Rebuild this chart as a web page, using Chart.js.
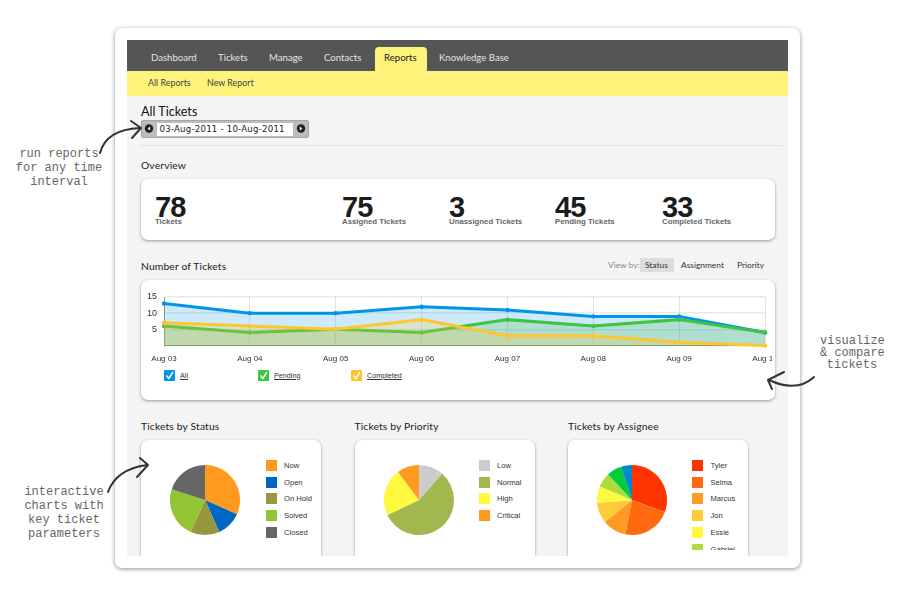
<!DOCTYPE html>
<html>
<head>
<meta charset="utf-8">
<script src="https://cdn.jsdelivr.net/npm/chart.js@4"></script>
<style>
html, body { margin: 0; padding: 0; background: #fff; width: 910px; height: 605px; overflow: hidden; }
body { position: relative; font-family: Lato, sans-serif; color: #222; }
.abs, .t { position: absolute; }
.t { white-space: nowrap; line-height: 14px; }
.panel { position: absolute; background: #fff; border-radius: 7px; box-shadow: 0 1px 3px rgba(0,0,0,.38); }
.note { position: absolute; font: 12px/14px "Liberation Mono", monospace; color: #666; text-align: center; white-space: pre; }
.h { font-size: 10.3px; color: #222; letter-spacing: .15px; }
.num { font: bold 29px/21px "Liberation Sans", sans-serif; letter-spacing: -1px; color: #1c1c1c; }
.lab { font: bold 7.8px/8px "Liberation Sans", sans-serif; color: #666; }
.nav { font-size: 9.6px; color: #e4e4e4; }
.sub { font-size: 8.9px; color: #444; }
.view { font-size: 8.4px; color: #333; }
.key { font: 7.2px/12px "Liberation Sans", sans-serif; color: #333; text-decoration: underline; }
.leg { font: 7.6px/12px "Liberation Sans", sans-serif; color: #333; }
canvas { position: absolute; }
</style>
</head>
<body>
<div class="abs" style="left:115px;top:28px;width:685px;height:540px;background:#fff;border-radius:7px;box-shadow:0 1px 4px rgba(0,0,0,.45)"></div>
<div class="abs" style="left:127px;top:40px;width:661px;height:516px;background:#f4f4f4;overflow:hidden" id="page"></div>
<div class="abs" style="left:127px;top:40px;width:661px;height:31px;background:#555"></div>
<div class="abs" style="left:127px;top:71px;width:661px;height:25px;background:#fff27a"></div>
<div class="abs" style="left:374.5px;top:47px;width:52px;height:24px;background:#fff27a;border-radius:4px 4px 0 0"></div>

<div class="t nav" style="left:151px;top:51px">Dashboard</div>
<div class="t nav" style="left:218px;top:51px">Tickets</div>
<div class="t nav" style="left:269px;top:51px">Manage</div>
<div class="t nav" style="left:324px;top:51px">Contacts</div>
<div class="t nav" style="left:384px;top:51px;color:#222">Reports</div>
<div class="t nav" style="left:439px;top:51px">Knowledge Base</div>
<div class="t sub" style="left:148px;top:76px">All Reports</div>
<div class="t sub" style="left:207px;top:76px">New Report</div>

<div class="t" style="left:141px;top:105px;font-size:12.6px;color:#111">All Tickets</div>
<div class="abs" style="left:141px;top:120px;width:168px;height:18px;background:#bcbcbc;border-radius:3px;box-shadow:inset 0 0 0 1px #a5a5a5"></div>
<div class="abs" style="left:156.5px;top:123px;width:136.5px;height:12.5px;background:#fff"></div>
<div class="t" style="left:159.5px;top:122px;font:8.6px/14px 'DejaVu Sans',sans-serif;letter-spacing:.22px;color:#222">03-Aug-2011 - 10-Aug-2011</div>
<svg class="abs" style="left:141px;top:120px" width="168" height="18">
  <circle cx="8" cy="8.5" r="4.2" fill="#222"/><path d="M9.2 6.5 L6.6 8.5 L9.2 10.5Z" fill="#fff"/>
  <circle cx="160" cy="8.5" r="4.2" fill="#222"/><path d="M158.8 6.5 L161.4 8.5 L158.8 10.5Z" fill="#fff"/>
</svg>
<div class="abs" style="left:141px;top:145px;width:641px;height:1px;background:#e2e2e2"></div>

<div class="t h" style="left:141px;top:158px">Overview</div>
<div class="panel" style="left:141px;top:179px;width:634px;height:61px"></div>
<div class="t num" style="left:155px;top:197px">78</div>
<div class="t lab" style="left:155px;top:218px">Tickets</div>
<div class="t num" style="left:342px;top:197px">75</div>
<div class="t lab" style="left:342px;top:218px">Assigned Tickets</div>
<div class="t num" style="left:449px;top:197px">3</div>
<div class="t lab" style="left:449px;top:218px">Unassigned Tickets</div>
<div class="t num" style="left:555px;top:197px">45</div>
<div class="t lab" style="left:555px;top:218px">Pending Tickets</div>
<div class="t num" style="left:662px;top:197px">33</div>
<div class="t lab" style="left:662px;top:218px">Completed Tickets</div>

<div class="t h" style="left:141px;top:259px">Number of Tickets</div>
<div class="abs" style="left:640px;top:257.5px;width:34px;height:14.5px;background:#ddd"></div>
<div class="t view" style="left:608px;top:258px;color:#888">View by:</div>
<div class="t view" style="left:645px;top:258px">Status</div>
<div class="t view" style="left:681px;top:258px">Assignment</div>
<div class="t view" style="left:737px;top:258px">Priority</div>
<div class="panel" style="left:141px;top:280px;width:634px;height:120px"></div>
<canvas id="lineChart" style="left:141px;top:285px"></canvas>
<div id="lineKeys"></div>

<div class="t h" style="left:141px;top:419px">Tickets by Status</div>
<div class="t h" style="left:354.5px;top:419px">Tickets by Priority</div>
<div class="t h" style="left:568px;top:419px">Tickets by Assignee</div>
<div class="abs" style="left:127px;top:430px;width:661px;height:126px;overflow:hidden" id="pieArea"></div>

<div class="note" style="left:14px;top:147px;width:90px">run reports
for any time
interval</div>
<div class="note" style="left:17px;top:485px;width:94px">interactive
charts with
key ticket
parameters</div>
<div class="note" style="left:820px;top:335px;width:64px;line-height:12px">visualize
&amp; compare
tickets</div>

<svg class="abs" style="left:0;top:0" width="910" height="605" fill="none" stroke="#333" stroke-width="2" stroke-linecap="round" stroke-linejoin="round">
  <path d="M100 153 C104 138 116 129 140 128"/>
  <path d="M131 121 L141 128 L132 138"/>
  <path d="M108 492 C113 478 125 468 147 465"/>
  <path d="M140 458 L148 465 L137 477"/>
  <path d="M814 377 C802 388 786 388 769 380"/>
  <path d="M784 372 L768 380 L772 389"/>
</svg>

<script>
const dayLabels = ['Aug 03', 'Aug 04', 'Aug 05', 'Aug 06', 'Aug 07', 'Aug 08', 'Aug 09', 'Aug 10'];
const allTickets = [13, 10, 10, 12, 11, 9, 9, 4];
const pendingTickets = [6, 4, 5, 4, 8, 6, 8, 4];
const completedTickets = [7, 6, 5, 8, 3, 3, 1, 0];
const yTicks = [5, 10, 15];

const statusLabels = ['Now', 'Open', 'On Hold', 'Solved', 'Closed'];
const statusValues = [19, 7, 8, 14, 12];
const statusColors = ['#ff9a1f', '#0066c4', '#9a9640', '#93c433', '#666666'];

const priorityLabels = ['Low', 'Normal', 'High', 'Critical'];
const priorityValues = [9, 44, 17, 8];
const priorityColors = ['#cccccc', '#a2b84e', '#fffa3f', '#ff9a1f'];

// last two names are cut off in the legend
const assigneeLabels = ['Tyler', 'Selma', 'Marcus', 'Jon', 'Essie', 'Gabriel', '', ''];
const assigneeValues = [110, 81, 40, 34, 28, 24, 25, 18];
const assigneeColors = ['#ff3300', '#ff6a10', '#ff9a25', '#ffcb38', '#fffa3f', '#aedb3c', '#00cc3c', '#0088cc'];

function lineSet(label, list, color, fill, order) {
  return {
    label: label,
    data: list,
    borderColor: color,
    backgroundColor: fill,
    pointBackgroundColor: color,
    pointBorderWidth: 0,
    pointRadius: 2.2,
    borderWidth: 3,
    tension: 0,
    fill: 'origin',
    clip: false,
    order: order
  };
}

const lineCanvas = document.getElementById('lineChart');
lineCanvas.width = 631;
lineCanvas.height = 85;
lineCanvas.style.width = '631px';
lineCanvas.style.height = '85px';

new Chart(lineCanvas.getContext('2d'), {
  type: 'line',
  data: {
    labels: dayLabels,
    datasets: [
      lineSet('All', allTickets, '#0095e8', 'rgba(0,149,232,.2)', 3),
      lineSet('Pending', pendingTickets, '#3fc43f', 'rgba(63,180,63,.22)', 2),
      lineSet('Completed', completedTickets, '#ffc52e', 'rgba(255,197,46,.22)', 1)
    ]
  },
  options: {
    responsive: false,
    animation: false,
    layout: { padding: { top: 12, right: 7, left: 0, bottom: 0 } },
    plugins: { legend: { display: false }, tooltip: { enabled: false } },
    scales: {
      x: {
        offset: false,
        grid: { color: 'rgba(0,0,0,.11)', drawTicks: false },
        border: { color: '#8f9f78' },
        ticks: { maxRotation: 0, autoSkip: false, padding: 8, color: '#333', font: { family: 'Liberation Sans', size: 8 } },
        afterFit: s => { s.height = 24.5; s.paddingLeft = 0; s.paddingRight = 0; }
      },
      y: {
        min: 0,
        max: 15,
        grid: { color: 'rgba(0,0,0,.09)', lineWidth: 1.5, drawTicks: false },
        border: { color: '#8f9f78' },
        afterBuildTicks: s => { s.ticks = [0].concat(yTicks).map(v => ({ value: v })); },
        ticks: {
          padding: 7,
          color: '#333',
          font: { family: 'Liberation Sans', size: 9 },
          callback: v => (v === 0 ? '' : v)
        },
        afterFit: s => { s.width = 23; s.paddingTop = 0; s.paddingBottom = 0; }
      }
    }
  }
});

// checkbox legend under the line chart
function addKey(label, color, x) {
  const holder = document.getElementById('lineKeys');
  holder.insertAdjacentHTML('beforeend',
    `<svg class="abs" style="left:${x}px;top:370px" width="11" height="11"><rect width="11" height="11" rx="1" fill="${color}"/>` +
    `<path d="M2.5 5.5 L4.8 8.5 L9 2" fill="none" stroke="#fff" stroke-width="1.4"/></svg>` +
    `<div class="t key" style="left:${x + 16}px;top:369.5px">${label}</div>`);
}
addKey('All', '#0095e8', 164);
addKey('Pending', '#3fc43f', 258);
addKey('Completed', '#ffc52e', 351);

// x = panel left inside the clipped area, which starts at 127,430
function addPie(panelX, labels, values, colors, swatchX, textX) {
  const area = document.getElementById('pieArea');
  const panel = document.createElement('div');
  panel.className = 'panel';
  panel.style.cssText = `left:${panelX - 127}px;top:10px;width:180px;height:140px`;
  area.appendChild(panel);

  const canvas = document.createElement('canvas');
  canvas.width = 80;
  canvas.height = 80;
  canvas.style.cssText = `left:${panelX + 24 - 127}px;top:30px;width:80px;height:80px`;
  area.appendChild(canvas);

  new Chart(canvas.getContext('2d'), {
    type: 'pie',
    data: { labels: labels, datasets: [{ data: values, backgroundColor: colors, borderWidth: 0 }] },
    options: {
      responsive: false,
      animation: false,
      radius: 35,
      plugins: { legend: { display: false }, tooltip: { enabled: false } }
    }
  });

  const legend = document.createElement('div');
  legend.className = 'abs';
  legend.style.cssText = `left:${swatchX - 127}px;top:30px;width:70px;height:90px;overflow:hidden`;
  labels.forEach((name, i) => {
    if (!name) return;
    const y = Math.round(i * 16.7);
    legend.insertAdjacentHTML('beforeend',
      `<div class="abs" style="left:0;top:${y}px;width:11px;height:11px;background:${colors[i]}"></div>` +
      `<div class="t leg" style="left:${textX - swatchX}px;top:${y}px">${name}</div>`);
  });
  area.appendChild(legend);
}
addPie(141, statusLabels, statusValues, statusColors, 265.5, 284);
addPie(354.5, priorityLabels, priorityValues, priorityColors, 479, 497);
addPie(568, assigneeLabels, assigneeValues, assigneeColors, 692, 710.5);
</script>
</body>
</html>
